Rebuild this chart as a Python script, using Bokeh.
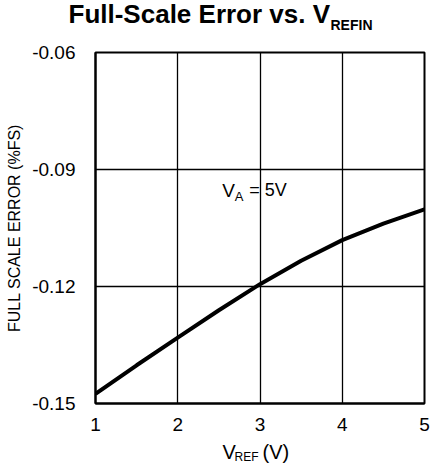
from bokeh.plotting import figure
from bokeh.models import Label, FixedTicker, Range1d, Title
from bokeh.layouts import column
from bokeh.embed import file_html
from bokeh.resources import INLINE

vref = [1.0, 1.5, 2.0, 2.5, 3.0, 3.5, 4.0, 4.5, 5.0]
fs_error = [-0.1475, -0.1402, -0.1331, -0.1261, -0.1194, -0.1134, -0.1081, -0.1039, -0.1002]
x_ticks = [1, 2, 3, 4, 5]
y_ticks = [-0.15, -0.12, -0.09, -0.06]

FONT = "Liberation Sans"
W = 430
FRAME_LEFT = 95

# ---- main plot ----
p = figure(width=W, height=438, output_backend="svg", toolbar_location=None,
           x_range=Range1d(1, 5), y_range=Range1d(-0.15, -0.06),
           min_border_left=FRAME_LEFT, min_border_right=6, min_border_top=50, min_border_bottom=35)
p.title.visible = False
p.line(vref, fs_error, line_color="black", line_width=4)

# title rows (first added = closest to frame): spacer, subscript, main text
t_space = Title(text=" ", align="left", standoff=8.3,
                text_font=FONT, text_font_size="14px", text_color="white")
t_sub = Title(text="REFIN", align="left", offset=330 - FRAME_LEFT, standoff=-17,
              vertical_align="top",
              text_font=FONT, text_font_size="14px", text_font_style="bold", text_color="black")
t_main = Title(text="Full-Scale Error vs. V", align="left", offset=68 - FRAME_LEFT, standoff=-7,
               vertical_align="bottom",
               text_font=FONT, text_font_size="26px", text_font_style="bold", text_color="black")
p.add_layout(t_space, "above")
p.add_layout(t_sub, "above")
p.add_layout(t_main, "above")

for ax in (p.xaxis, p.yaxis):
    ax.major_tick_line_color = None
    ax.minor_tick_line_color = None
    ax.axis_line_color = "black"
    ax.axis_line_width = 2
    ax.major_label_text_font = FONT
    ax.major_label_text_font_size = "19px"
    ax.major_label_text_color = "black"
p.xaxis.ticker = FixedTicker(ticks=x_ticks)
p.yaxis.ticker = FixedTicker(ticks=y_ticks)
p.yaxis.major_label_overrides = {v: f"{v:.2f}" for v in y_ticks}
p.xaxis.major_label_standoff = 8
p.yaxis.major_label_standoff = 14
p.yaxis.axis_label = "FULL SCALE ERROR (%FS)"
p.yaxis.axis_label_text_font = FONT
p.yaxis.axis_label_text_font_size = "16px"
p.yaxis.axis_label_text_font_style = "normal"
p.yaxis.axis_label_text_color = "black"
p.yaxis.axis_label_standoff = 6

p.xgrid.ticker = FixedTicker(ticks=x_ticks)
p.ygrid.ticker = FixedTicker(ticks=y_ticks)
p.grid.grid_line_color = "black"
p.grid.grid_line_width = 1.3
p.grid.grid_line_alpha = 1
p.outline_line_color = "black"
p.outline_line_width = 2
p.outline_line_alpha = 1

# annotation V_A = 5V
ann_x, ann_y = 2.54, -0.0953
p.add_layout(Label(x=ann_x, y=ann_y, text="V", text_font=FONT, text_font_size="19px",
                   text_baseline="middle", text_color="black"))
p.add_layout(Label(x=ann_x, y=ann_y, x_offset=12.5, y_offset=-6, text="A", text_font=FONT,
                   text_font_size="13px", text_baseline="middle", text_color="black"))
p.add_layout(Label(x=ann_x, y=ann_y, x_offset=27, text="= 5V", text_font=FONT,
                   text_font_size="18px", text_baseline="middle", text_color="black"))

# ---- x axis label strip (frame is aligned with the main plot frame) ----
pb = figure(width=W, height=33, output_backend="svg", toolbar_location=None,
            x_range=Range1d(0, W), y_range=Range1d(0, 33),
            x_axis_location=None, y_axis_location=None,
            min_border_left=0, min_border_right=0, min_border_top=0, min_border_bottom=0)
pb.grid.visible = False
pb.outline_line_color = None
pb.add_layout(Label(x=222 - FRAME_LEFT, y=20, x_units="screen", y_units="screen", text="V",
                    text_font=FONT, text_font_size="20px", text_color="black",
                    text_baseline="alphabetic"))
pb.add_layout(Label(x=234 - FRAME_LEFT, y=15, x_units="screen", y_units="screen", text="REF",
                    text_font=FONT, text_font_size="12px", text_color="black",
                    text_baseline="alphabetic"))
pb.add_layout(Label(x=262 - FRAME_LEFT, y=20, x_units="screen", y_units="screen", text="(V)",
                    text_font=FONT, text_font_size="20px", text_color="black",
                    text_baseline="alphabetic"))

layout = column(p, pb, spacing=0)
open("out.html", "w").write(file_html(layout, INLINE))
